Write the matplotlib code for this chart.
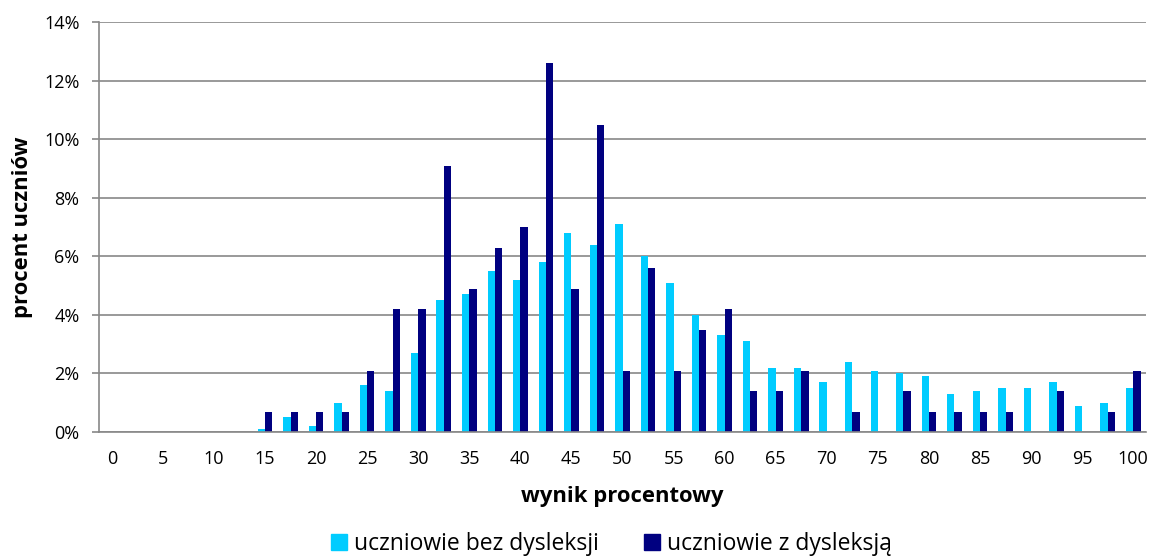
import matplotlib
matplotlib.use("Agg")
import matplotlib.pyplot as plt
import numpy as np
from matplotlib.patches import Patch

plt.rcParams['font.family'] = ['Open Sans', 'DejaVu Sans']

# score bins 0, 2.5, ..., 100 (% of max score)
scores = [i * 2.5 for i in range(41)]
tick_labels = [str(s) for s in range(0, 101, 5)]

# share of students in each bin (%)
bez_dysleksji = [0, 0, 0, 0, 0, 0, 0.1, 0.5, 0.2, 1.0,
                 1.6, 1.4, 2.7, 4.5, 4.7, 5.5, 5.2, 5.8, 6.8, 6.4,
                 7.1, 6.0, 5.1, 4.0, 3.3, 3.1, 2.2, 2.2, 1.7, 2.4,
                 2.1, 2.0, 1.9, 1.3, 1.4, 1.5, 1.5, 1.7, 0.9, 1.0,
                 1.5]
z_dysleksja = [0, 0, 0, 0, 0, 0, 0.7, 0.7, 0.7, 0.7,
               2.1, 4.2, 4.2, 9.1, 4.9, 6.3, 7.0, 12.6, 4.9, 10.5,
               2.1, 5.6, 2.1, 3.5, 4.2, 1.4, 1.4, 2.1, 0, 0.7,
               0, 1.4, 0.7, 0.7, 0.7, 0.7, 0, 1.4, 0, 0.7,
               2.1]

c_bez = '#00CCFF'
c_z = '#000080'
grey = '#888888'

fig = plt.figure(figsize=(11.52, 5.56), dpi=100)
ax = fig.add_axes([99 / 1152, 124 / 556, 1047 / 1152, 410 / 556])

x = np.arange(len(scores))
w = 0.286
ax.bar(x - w / 2, bez_dysleksji, width=w, color=c_bez, zorder=2)
ax.bar(x + w / 2, z_dysleksja, width=w, color=c_z, zorder=2)

ax.set_xlim(-0.5, len(scores) - 0.5)
ax.set_ylim(0, 14)
ax.set_xticks(x[::2])
ax.set_xticklabels(tick_labels)
ax.set_yticks(range(0, 15, 2))
ax.set_yticklabels([f'{v}%' for v in range(0, 15, 2)])

ax.grid(axis='y', color=grey, linewidth=1.2, zorder=0)
ax.set_axisbelow(True)
for s in ['top', 'right']:
    ax.spines[s].set_visible(False)
for s in ['left', 'bottom']:
    ax.spines[s].set_color(grey)
    ax.spines[s].set_linewidth(1.2)

ax.tick_params(axis='x', length=0, pad=13, labelsize=13, colors='black')
ax.tick_params(axis='y', length=5, width=1.2, color=grey, pad=9, labelsize=13)

ax.set_xlabel('wynik procentowy', fontsize=15.8, fontweight='bold')
ax.xaxis.label.set_va('center')
ax.xaxis.set_label_coords(0.5, -0.158)
ax.set_ylabel('procent uczniów', fontsize=15.8, fontweight='bold')
ax.yaxis.label.set_va('center')
ax.yaxis.set_label_coords(-0.073, 0.5)

handles = [Patch(color=c_bez, label='uczniowie bez dysleksji'),
           Patch(color=c_z, label='uczniowie z dysleksją')]
fig.legend(handles=handles, loc='center', bbox_to_anchor=(611.5 / 1152, 12 / 556),
           ncol=2, frameon=False, fontsize=16.5, handlelength=0.7, handleheight=0.7,
           handletextpad=0.3, columnspacing=2.0, borderpad=0)

fig.savefig('out.png', dpi=100)
